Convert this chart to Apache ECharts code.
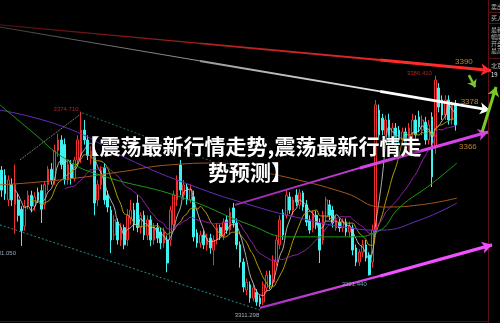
<!DOCTYPE html>
<html><head><meta charset="utf-8">
<script src="https://cdn.jsdelivr.net/npm/echarts@6/dist/echarts.min.js"></script>
<style>html,body{margin:0;padding:0;background:#000;}#c{width:500px;height:323px;}</style>
</head><body><div id="c"></div>
<script>
// ---- candle values ----
const open = [3355.7,3354,3346,3351,3344.5,3346,3343,3337.5,3344,3347.5,
3344,3348.5,3349,3344.5,3351,3356,3352.5,3362,3365.5,3364,
3352.5,3357.5,3353,3359,3360.5,3368.7,3365.5,3359.5,3361,3346,
3351,3356.5,3347.5,3342.7,3334.6,3338.8,3333,3337,3333,3340,
3342.7,3345,3337,3341,3334.6,3339.5,3333,3337,3335.6,3332,
3333,3333,3338,3346,3357.4,3347.6,3350.2,3346,3347,3335.3,
3332,3334.6,3331.4,3333.6,3329.7,3333,3337,3334.3,3339.5,3336.2,
3343.4,3338.5,3331.4,3325.8,3316.7,3318.4,3314.1,3316,3314.1,3312.8,
3317.4,3321.6,3319.3,3325.8,3331.4,3341.8,3341,3347,3342.7,3347.6,
3344.4,3348.3,3344.4,3339.5,3336.9,3341,3338.5,3333,3340.5,3344.4,
3342.7,3336.9,3338.8,3336.9,3338.8,3335.6,3336.9,3330.4,3325.8,3329,
3331.4,3328.1,3325.8,3336.2,3375.2,3372.6,3367.1,3372,3363.9,3369.4,
3368.7,3365.5,3368.1,3363.9,3367.8,3372,3373,3368.7,3371.3,3365.5,
3373,3363.2,3382.4,3378.5,3373.6,3378.5,3372,3376.9];
const close = [3349.2,3348,3352.5,3346,3351,3341,3336,3344,3347.5,3344,
3347,3346,3343,3351,3356,3352.5,3362,3365.5,3357.5,3352.5,
3357.5,3353,3359,3365.5,3368.7,3365.5,3360.5,3362,3345,3351,
3355.7,3346,3343.7,3333,3339.5,3333,3337,3331.4,3341,3342.7,
3337.9,3337,3341,3334.6,3339.5,3333,3337,3333.6,3332,3335.6,
3325.5,3342.7,3347.6,3352.5,3349.2,3350.9,3346,3349.2,3334,3332,
3334.6,3331.4,3333.6,3330.4,3333,3337,3334.3,3338.8,3336.2,3342,
3338.5,3331.4,3325.8,3317.7,3319.3,3314.1,3317.4,3312.8,3312.2,3318.4,
3321.6,3318.4,3326.5,3333,3339.5,3334.6,3347.6,3342.7,3346,3345.3,
3348.3,3343.7,3338.8,3336.2,3341,3337.9,3329.7,3341,3346,3341,
3338.5,3339.5,3336.9,3338.8,3335.6,3337.5,3329.7,3325.8,3329,3331.4,
3327.1,3321.7,3336.2,3376.9,3367.1,3368.7,3372,3363.9,3369.4,3362.2,
3365.5,3368.1,3363.9,3369.4,3372,3367.1,3369.7,3372,3365.5,3370.4,
3353.5,3385,3376.2,3373.6,3378.5,3372,3376.9,3370.4];
const low = [3347,3346,3344,3344,3335,3339,3331.05,3336,3343,3342,
3342.5,3345,3338.5,3343,3349,3351,3351,3360,3356,3351,
3351,3351,3352,3357,3358,3364,3359,3357.5,3341,3344,
3349.5,3344.5,3342,3328.7,3333,3331.5,3331,3330,3331,3338,
3336,3335.5,3335,3333,3333,3331,3331.5,3332,3330,3330.5,
3322.5,3331,3336,3344,3347.5,3346,3344.5,3345,3332.5,3330.5,
3330.5,3330,3329.5,3328.5,3324.8,3331.5,3333,3333,3335,3334.6,
3337,3330,3324,3316,3315,3312.6,3313,3311.6,3311.298,3311.8,
3316,3317,3318,3324.5,3330,3333,3340,3341.5,3341,3344,
3343,3342.5,3337.5,3335,3335.5,3336.5,3325.5,3331.5,3339,3339.5,
3337,3336,3335.6,3335.5,3334.3,3334,3328,3324.5,3324.5,3327.5,
3326,3321.44,3324,3335,3365.5,3367,3365.5,3362,3362,3360.5,
3364,3364,3362.5,3362,3366,3365.5,3368,3367,3364,3364,
3350.2,3361,3374.5,3372,3372,3370.5,3370.5,3368.5];
const high = [3357,3356,3354,3353,3357.5,3348,3344,3346,3349,3349,
3348.5,3350,3351,3352,3357,3358,3364,3367.5,3367,3366,
3359,3359,3360,3367,3374.71,3372,3367,3363.5,3363,3352.5,
3357,3358,3349,3344,3341,3340,3338.5,3338,3343,3346,
3345,3347.6,3342,3342.5,3341,3341,3338.5,3338.5,3337,3337,
3334.5,3344,3349,3354,3359,3352.5,3351.5,3351,3349,3336.5,
3336,3336,3335,3335,3334.5,3338.5,3338,3340,3341,3343.5,
3345,3340,3332.5,3327,3320.5,3319.5,3318.5,3317,3315,3319.5,
3323,3323,3328,3334.5,3341,3343,3349.5,3348.5,3347,3349.5,
3349.6,3349,3346,3341,3342.5,3342.5,3340,3342.5,3347,3346,
3344,3341,3340,3340,3340,3339,3338,3331.5,3330,3333,
3333,3329,3338,3378.5,3377,3374,3373.5,3374,3371,3371,
3370,3369.5,3369.5,3371,3374,3373.5,3375,3373.5,3373,3372,
3374.5,3386.41,3384,3380,3380,3380,3378,3378.5];
const totalSlots = 151;

// ---- long moving averages: [slot position, price] ----
const maPurple = [[0,3375.2],[20.2,3369.4],[39.3,3359.0],[57.4,3350.9],[75.5,3344.4],[90.6,3340.1],[105.7,3336.9],[114.8,3336.2],[126.8,3339.5],[138.0,3345.0]];
const maOrange = [[0,3350.9],[18.1,3352.5],[36.2,3355.1],[51.3,3357.4],[66.4,3358.0],[75.5,3355.7],[86.1,3353.5],[104.2,3348.3],[115.7,3343.7],[126.8,3344.4],[138.0,3346.6]];
const maGreen = [[0,3376.9],[9.1,3368.7],[20.2,3359.0],[30.2,3354.1],[54.4,3347.0],[75.5,3337.9],[87.6,3334.0],[105.7,3334.0],[113.9,3335.6],[120.8,3343.7],[129.9,3350.9],[138.0,3358.0]];

// ---- drawn trend lines: [slot position, price] ----
const redLine = [[0,3402.9],[60.4,3396.9],[114.8,3391.5],[148.3,3388.1]];
const whiteLine = [[0,3402.2],[60.4,3391.2],[114.8,3381.3],[148.0,3375.2]];
const magentaUpper = [[71.0,3344.4],[108.7,3356.4],[147.4,3368.1]];
const magentaLower = [[78.5,3310.9],[114.8,3321.3],[148.6,3331.4]];
const tealLower = [[0,3337.9],[78.5,3310.2]];
const tealPeak = [[24.8,3374.3],[72.5,3355.1]];
const grayRise = [[6.0,3359.0],[24.8,3374.3]];
const greenUpArrow = [[145.6,3368.1],[149.8,3382.7]];
const greenDownArrow = [[141.6,3386.6],[143.5,3382.7]];

// ---- level labels ----
const levelNames = ['3390','3378','3366'];
const levelPos = [[140.1,3390.8],[141.8,3378.0],[141.3,3363.2]];

// ---- extreme price labels ----
const extremeIdx = [24,131,78,111,6];
const extremeVal = [3374.710,3386.410,3311.298,3321.440,3331.050];

// ---- right panel ----
const panelTexts = ['卖出','买入','最新','幅度','开盘','最高','北京','19'];

const cats = Array.from({length: totalSlots}, (_, i) => String(i + 1));
const kData = open.map((o, i) => [o, close[i], low[i], high[i]]);
function ma(n) {
  return close.map((_, i) => {
    if (i < n - 1) return null;
    let s = 0; for (let j = i - n + 1; j <= i; j++) s += close[j];
    return +(s / n).toFixed(2);
  });
}
const G = echarts.graphic.LinearGradient;
function seg(a, b, style, arrow, size) {
  return [{coord: a, lineStyle: Object.assign({type: 'solid'}, style), symbol: 'none'},
          {coord: b, symbol: arrow ? 'arrow' : 'none', symbolSize: size || [8, 10]}];
}
function grad(c1, c2) { return new G(0, 0, 1, 0, [{offset: 0, color: c1}, {offset: 1, color: c2}]); }

const extremeStyle = [
  {position: 'left', offset: [3, -2], color: '#e03030'},
  {position: 'left', offset: [2, -2], color: '#e03030'},
  {position: 'bottom', offset: [-13, 0], color: '#c8dce0'},
  {position: 'bottom', offset: [-15, 0], color: '#7ac8c8'},
  {position: 'bottom', offset: [-18, -1], color: '#b8d0e0'}
];

const option = {
  backgroundColor: '#000',
  animation: false,
  title: {
    text: '【震荡最新行情走势,震荡最新行情走\n势预测】',
    left: 'center', top: 128,
    textStyle: {
      color: '#fff', fontSize: 21, fontWeight: 'bold', lineHeight: 26,
      fontFamily: '"Noto Sans CJK SC", sans-serif',
      textShadowColor: '#000', textShadowBlur: 4
    },
    z: 20
  },
  grid: {left: 0, right: 0, top: 0, bottom: 0},
  xAxis: [
    {type: 'category', data: cats, show: false, boundaryGap: true},
    {type: 'value', min: 0, max: totalSlots, show: false}
  ],
  yAxis: {type: 'value', min: 3306, max: 3411, show: false},
  series: [
    {
      type: 'candlestick', data: kData, barWidth: '66%',
      itemStyle: {color: '#000', color0: '#3ff2f2', borderColor: '#f03030', borderColor0: '#3ff2f2', borderWidth: 1}
    },
    {type: 'line', data: ma(5), showSymbol: false, smooth: true, lineStyle: {color: '#cfcfcf', width: 1, opacity: 0.85}},
    {type: 'line', data: ma(10), showSymbol: false, smooth: true, lineStyle: {color: '#b8a000', width: 1}},
    {type: 'line', data: ma(20), showSymbol: false, smooth: true, lineStyle: {color: '#a020b8', width: 1}},
    {type: 'line', xAxisIndex: 1, data: maPurple, showSymbol: false, smooth: true, lineStyle: {color: '#6a2cc0', width: 1}},
    {type: 'line', xAxisIndex: 1, data: maOrange, showSymbol: false, smooth: true, lineStyle: {color: '#a8561a', width: 1}},
    {type: 'line', xAxisIndex: 1, data: maGreen, showSymbol: false, smooth: true, lineStyle: {color: '#1c9a1c', width: 1}},
    {type: 'line', xAxisIndex: 1, data: tealLower, showSymbol: false, lineStyle: {color: '#2a8a8a', width: 1, type: [2, 2]}},
    {type: 'line', xAxisIndex: 1, data: tealPeak, showSymbol: false, lineStyle: {color: '#1f6f6f', width: 1, type: [2, 2]}},
    {type: 'line', xAxisIndex: 1, data: grayRise, showSymbol: false, lineStyle: {color: '#7a7a7a', width: 1, type: [2, 1]}},
    {
      type: 'line', xAxisIndex: 1, data: [], z: 5,
      markLine: {
        silent: true, animation: false, symbol: ['none', 'none'], label: {show: false},
        emphasis: {disabled: true},
        data: [
          seg(redLine[0], redLine[1], {color: grad('#4a0c0c', '#a82020'), width: 1.2}),
          seg(redLine[1], redLine[2], {color: grad('#a82020', '#e82828'), width: 2}),
          seg(redLine[2], redLine[3], {color: '#ff2a2a', width: 3}, true, [9, 10]),
          seg(whiteLine[0], whiteLine[1], {color: grad('#3a3a3a', '#9a9a9a'), width: 1}),
          seg(whiteLine[1], whiteLine[2], {color: grad('#9a9a9a', '#e8e8e8'), width: 2}),
          seg(whiteLine[2], whiteLine[3], {color: '#ffffff', width: 3}, true, [9, 10]),
          seg(magentaUpper[0], magentaUpper[1], {color: grad('#9a2aaa', '#cc3cdc'), width: 1.8}),
          seg(magentaUpper[1], magentaUpper[2], {color: '#d644e6', width: 3}, true, [9, 10]),
          seg(magentaLower[0], magentaLower[1], {color: grad('#a030b8', '#e24cf0'), width: 2.2}),
          seg(magentaLower[1], magentaLower[2], {color: '#f050ff', width: 3.2}, true, [9, 10]),
          seg(greenUpArrow[0], greenUpArrow[1], {color: '#7cc828', width: 3, curveness: -0.2}, true, [9, 9]),
          seg(greenDownArrow[0], greenDownArrow[1], {color: '#7cc828', width: 2.5, curveness: 0.3}, true, [8, 7])
        ]
      }
    },
    {
      type: 'scatter', xAxisIndex: 1, symbolSize: 1, itemStyle: {color: 'rgba(0,0,0,0)'}, z: 8,
      data: levelNames.map((n, i) => ({name: n, value: levelPos[i]})),
      label: {show: true, position: 'inside', formatter: p => p.name, color: '#e0a040', fontSize: 8, fontFamily: 'Liberation Sans'}
    },
    {
      type: 'scatter', xAxisIndex: 1, symbolSize: 1, itemStyle: {color: 'rgba(0,0,0,0)'}, z: 8,
      data: extremeIdx.map((k, i) => ({
        value: [k + 0.5, extremeVal[i]],
        label: Object.assign({show: true, fontSize: 6, fontFamily: 'Liberation Sans',
          formatter: extremeVal[i].toFixed(3), distance: 5}, extremeStyle[i])
      }))
    }
  ],
  graphic: [
    {type: 'line', shape: {x1: 488.5, y1: 0, x2: 488.5, y2: 323}, style: {stroke: '#5c1212', lineWidth: 1}, z: 1},
    {type: 'line', shape: {x1: 0, y1: 321.5, x2: 488, y2: 321.5}, style: {stroke: '#4a0c0c', lineWidth: 1}, z: 1},
    {type: 'line', shape: {x1: 488, y1: 12.5, x2: 500, y2: 12.5}, style: {stroke: '#5c1212', lineWidth: 1}, z: 1},
    {type: 'line', shape: {x1: 488, y1: 23.5, x2: 500, y2: 23.5}, style: {stroke: '#5c1212', lineWidth: 1}, z: 1},
    {type: 'line', shape: {x1: 488, y1: 58.5, x2: 500, y2: 58.5}, style: {stroke: '#5c1212', lineWidth: 1}, z: 1}
  ].concat(panelTexts.map((t, i) => ({
    type: 'text', x: 491, y: [4, 15, 27, 34, 41, 48, 63, 72][i], z: 2,
    style: {text: t, fill: i === 7 ? '#e8e8e8' : '#b8b8b8', fontSize: 6, fontFamily: '"Noto Sans CJK SC", sans-serif'}
  })))
};
const chart = echarts.init(document.getElementById('c'));
chart.setOption(option);
</script>
</body></html>
